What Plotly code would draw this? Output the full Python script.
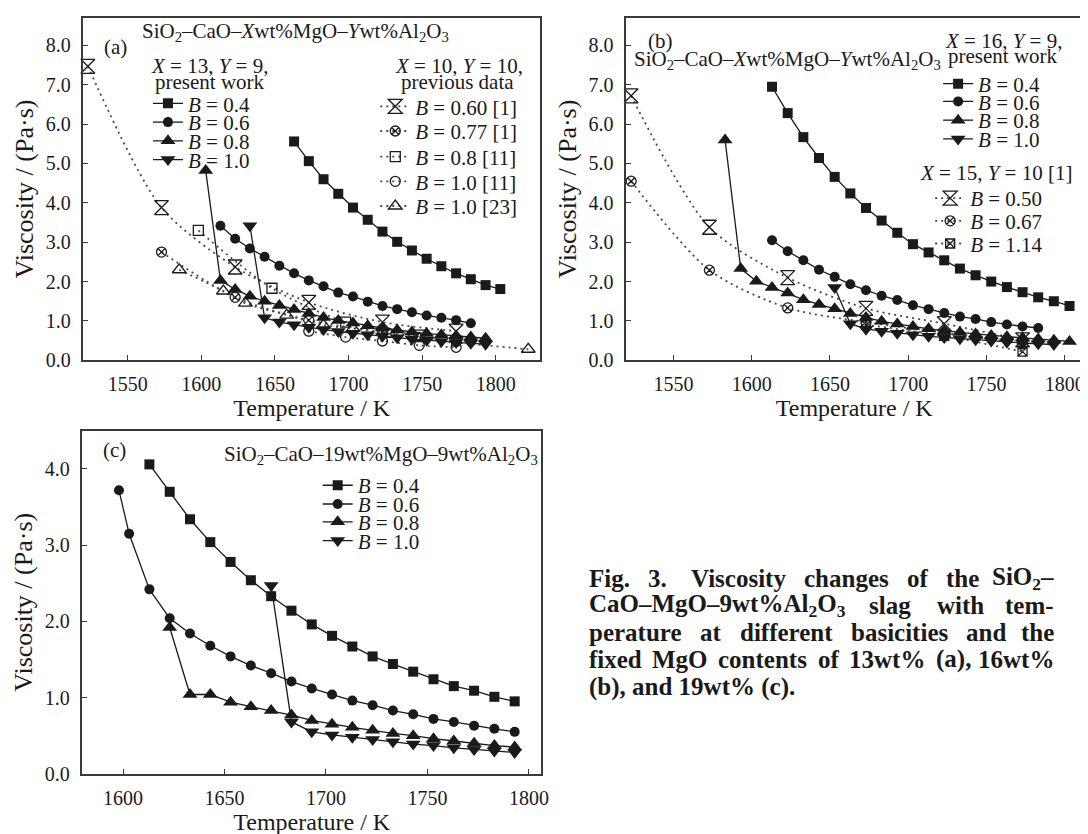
import plotly.graph_objects as go

W, H = 1088, 834
FONT = "Liberation Serif"
INK = "#1a1a1a"

# ---------------- panel (a): X = 13, Y = 9, present work ----------------
a_b04_T = [1663, 1673, 1683, 1693, 1703, 1713, 1723, 1733, 1743, 1753, 1763, 1773, 1783, 1793, 1803]
a_b04_V = [5.56, 5.06, 4.60, 4.23, 3.88, 3.57, 3.27, 3.01, 2.79, 2.58, 2.39, 2.21, 2.06, 1.91, 1.81]
a_b06_T = [1613, 1623, 1633, 1643, 1653, 1663, 1673, 1683, 1693, 1703, 1713, 1723, 1733, 1743, 1753, 1763, 1773, 1783]
a_b06_V = [3.42, 3.09, 2.84, 2.63, 2.40, 2.21, 2.03, 1.88, 1.72, 1.62, 1.49, 1.38, 1.30, 1.22, 1.14, 1.08, 1.02, 0.94]
a_b08_T = [1603, 1613, 1623, 1633, 1643, 1653, 1663, 1673, 1683, 1693, 1703, 1713, 1723, 1733, 1743, 1753, 1763, 1773, 1783, 1793]
a_b08_V = [4.82, 2.03, 1.80, 1.63, 1.50, 1.39, 1.29, 1.19, 1.09, 1.01, 0.95, 0.88, 0.82, 0.77, 0.72, 0.68, 0.65, 0.62, 0.59, 0.56]
a_b10_T = [1633, 1643, 1653, 1663, 1673, 1683, 1693, 1703, 1713, 1723, 1733, 1743, 1753, 1763, 1773, 1783, 1793]
a_b10_V = [3.42, 1.08, 0.97, 0.90, 0.84, 0.78, 0.73, 0.69, 0.65, 0.61, 0.57, 0.54, 0.51, 0.48, 0.45, 0.43, 0.41]
# panel (a): X = 10, Y = 10, previous data
a_p060_T = [1523, 1573, 1623, 1673, 1723, 1773]
a_p060_V = [7.47, 3.88, 2.37, 1.47, 0.97, 0.74]
a_p077_T = [1573, 1623, 1673, 1723, 1773]
a_p077_V = [2.75, 1.60, 1.02, 0.72, 0.48]
a_p08_T = [1598, 1648, 1698, 1748]
a_p08_V = [3.30, 1.83, 0.97, 0.64]
a_p10_T = [1673, 1698, 1723, 1748, 1773]
a_p10_V = [0.74, 0.59, 0.49, 0.38, 0.33]
a_p10b_T = [1585, 1615, 1630, 1658, 1683, 1703, 1728, 1748, 1822]
a_p10b_V = [2.30, 1.76, 1.45, 1.15, 0.89, 0.81, 0.66, 0.55, 0.28]

# ---------------- panel (b): X = 16, Y = 9, present work ----------------
b_b04_T = [1613, 1623, 1633, 1643, 1653, 1663, 1673, 1683, 1693, 1703, 1713, 1723, 1733, 1743, 1753, 1763, 1773, 1783, 1793, 1803]
b_b04_V = [6.95, 6.28, 5.67, 5.14, 4.66, 4.24, 3.87, 3.55, 3.24, 2.95, 2.74, 2.54, 2.33, 2.16, 2.00, 1.86, 1.73, 1.60, 1.50, 1.38]
b_b06_T = [1613, 1623, 1633, 1643, 1653, 1663, 1673, 1683, 1693, 1703, 1713, 1723, 1733, 1743, 1753, 1763, 1773, 1783]
b_b06_V = [3.05, 2.77, 2.54, 2.30, 2.12, 1.93, 1.78, 1.64, 1.53, 1.40, 1.30, 1.20, 1.11, 1.05, 0.97, 0.91, 0.86, 0.82]
b_b08_T = [1583, 1593, 1603, 1613, 1623, 1633, 1643, 1653, 1663, 1673, 1683, 1693, 1703, 1713, 1723, 1733, 1743, 1753, 1763, 1773, 1783, 1793, 1803]
b_b08_V = [5.60, 2.33, 2.01, 1.85, 1.71, 1.54, 1.42, 1.31, 1.19, 1.09, 0.99, 0.92, 0.86, 0.80, 0.75, 0.71, 0.67, 0.63, 0.60, 0.57, 0.54, 0.51, 0.48]
b_b10_T = [1653, 1663, 1673, 1683, 1693, 1703, 1713, 1723, 1733, 1743, 1753, 1763, 1773, 1783, 1793]
b_b10_V = [1.85, 0.93, 0.79, 0.74, 0.69, 0.65, 0.61, 0.58, 0.55, 0.52, 0.49, 0.46, 0.44, 0.42, 0.40]
# panel (b): X = 15, Y = 10 [1]
b_p050_T = [1523, 1573, 1623, 1673, 1723, 1773]
b_p050_V = [6.72, 3.38, 2.10, 1.32, 0.93, 0.52]
b_p067_T = [1523, 1573, 1623, 1673, 1723, 1773]
b_p067_V = [4.55, 2.29, 1.33, 0.97, 0.70, 0.42]
b_p114_T = [1673, 1723, 1773]
b_p114_V = [0.90, 0.62, 0.22]

# ---------------- panel (c): 19wt% MgO, 9wt% Al2O3 ----------------
c_b04_T = [1613, 1623, 1633, 1643, 1653, 1663, 1673, 1683, 1693, 1703, 1713, 1723, 1733, 1743, 1753, 1763, 1773, 1783, 1793]
c_b04_V = [4.06, 3.70, 3.34, 3.04, 2.78, 2.54, 2.33, 2.14, 1.96, 1.81, 1.67, 1.54, 1.44, 1.34, 1.24, 1.15, 1.09, 1.01, 0.95]
c_b06_T = [1598, 1603, 1613, 1623, 1633, 1643, 1653, 1663, 1673, 1683, 1693, 1703, 1713, 1723, 1733, 1743, 1753, 1763, 1773, 1783, 1793]
c_b06_V = [3.72, 3.15, 2.42, 2.04, 1.84, 1.68, 1.54, 1.42, 1.32, 1.21, 1.12, 1.04, 0.96, 0.90, 0.83, 0.78, 0.72, 0.68, 0.63, 0.59, 0.55]
c_b08_T = [1623, 1633, 1643, 1653, 1663, 1673, 1683, 1693, 1703, 1713, 1723, 1733, 1743, 1753, 1763, 1773, 1783, 1793]
c_b08_V = [1.92, 1.04, 1.04, 0.94, 0.88, 0.83, 0.77, 0.70, 0.65, 0.61, 0.57, 0.53, 0.50, 0.46, 0.43, 0.40, 0.37, 0.35]
c_b10_T = [1673, 1683, 1693, 1703, 1713, 1723, 1733, 1743, 1753, 1763, 1773, 1783, 1793]
c_b10_V = [2.47, 0.68, 0.55, 0.51, 0.48, 0.45, 0.42, 0.39, 0.37, 0.34, 0.32, 0.30, 0.28]

# tick values
x_ticks_ab = [1550, 1600, 1650, 1700, 1750, 1800]
x_ticks_c = [1600, 1650, 1700, 1750, 1800]
y_ticks_ab = [0, 1, 2, 3, 4, 5, 6, 7, 8]
y_ticks_c = [0, 1, 2, 3, 4]

fig = go.Figure()
legend_layouts = {}
leg_counter = [0]


def px(x):
    return x / W


def py(y):
    return 1 - y / H


def new_legend(text_x, cy):
    leg_counter[0] += 1
    k = leg_counter[0]
    name = "legend" if k == 1 else f"legend{k}"
    legend_layouts[name] = dict(
        x=px(text_x - 41), y=py(cy), xanchor="left", yanchor="middle",
        bgcolor="rgba(0,0,0,0)", borderwidth=0, itemwidth=30, tracegroupgap=0,
        font=dict(family=FONT, size=21, color=INK),
    )
    return name


def present(x, y, sym, size, label, xa, ya, tx, cy):
    fig.add_trace(go.Scatter(
        x=x, y=y, mode="lines+markers", name=label, xaxis=xa, yaxis=ya,
        legend=new_legend(tx, cy), cliponaxis=False,
        line=dict(color=INK, width=1.3),
        marker=dict(symbol=sym, size=size, color=INK, line=dict(width=0)),
    ))


def previous(x, y, sym, size, label, xa, ya, tx, cy):
    fig.add_trace(go.Scatter(
        x=x, y=y, mode="lines+markers", name=label, xaxis=xa, yaxis=ya,
        legend=new_legend(tx, cy), cliponaxis=False,
        line=dict(color="#4a4a4a", width=1.8, dash="2px,4px", shape="spline", smoothing=0.8),
        marker=dict(symbol=sym, size=size, color=INK, line=dict(width=1.3, color=INK)),
    ))


B = "<i>B</i>"
# panel (a) previous data (drawn beneath)
rows_a2 = [100, 125, 151, 176, 201]
previous(a_p060_T, a_p060_V, "hourglass-open", 14, f"{B} = 0.60 [1]", "x", "y", 411, rows_a2[0])
previous(a_p077_T, a_p077_V, "circle-x-open", 10, f"{B} = 0.77 [1]", "x", "y", 411, rows_a2[1])
previous(a_p08_T, a_p08_V, "square-open", 10, f"{B} = 0.8 [11]", "x", "y", 411, rows_a2[2])
previous(a_p10_T, a_p10_V, "circle-open", 10, f"{B} = 1.0 [11]", "x", "y", 411, rows_a2[3])
previous(a_p10b_T, a_p10b_V, "triangle-up-open", 12, f"{B} = 1.0 [23]", "x", "y", 411, rows_a2[4])
# panel (a) present work
rows_a1 = [97, 116, 135, 154]
present(a_b04_T, a_b04_V, "square", 10, f"{B} = 0.4", "x", "y", 182, rows_a1[0])
present(a_b06_T, a_b06_V, "circle", 10, f"{B} = 0.6", "x", "y", 182, rows_a1[1])
present(a_b08_T, a_b08_V, "triangle-up", 13, f"{B} = 0.8", "x", "y", 182, rows_a1[2])
present(a_b10_T, a_b10_V, "triangle-down", 13, f"{B} = 1.0", "x", "y", 182, rows_a1[3])

# panel (b)
rows_b2 = [193, 216, 239]
previous(b_p050_T, b_p050_V, "hourglass-open", 14, f"{B} = 0.50", "x2", "y2", 970, rows_b2[0])
previous(b_p067_T, b_p067_V, "circle-x-open", 10, f"{B} = 0.67", "x2", "y2", 970, rows_b2[1])
previous(b_p114_T, b_p114_V, "square-x-open", 9, f"{B} = 1.14", "x2", "y2", 970, rows_b2[2])
rows_b1 = [77, 95, 114, 133]
present(b_b04_T, b_b04_V, "square", 10, f"{B} = 0.4", "x2", "y2", 978, rows_b1[0])
present(b_b06_T, b_b06_V, "circle", 10, f"{B} = 0.6", "x2", "y2", 978, rows_b1[1])
present(b_b08_T, b_b08_V, "triangle-up", 13, f"{B} = 0.8", "x2", "y2", 978, rows_b1[2])
present(b_b10_T, b_b10_V, "triangle-down", 13, f"{B} = 1.0", "x2", "y2", 978, rows_b1[3])

# panel (c)
rows_c = [484, 503, 521, 540]
present(c_b04_T, c_b04_V, "square", 10, f"{B} = 0.4", "x3", "y3", 353, rows_c[0])
present(c_b06_T, c_b06_V, "circle", 10, f"{B} = 0.6", "x3", "y3", 353, rows_c[1])
present(c_b08_T, c_b08_V, "triangle-up", 13, f"{B} = 0.8", "x3", "y3", 353, rows_c[2])
present(c_b10_T, c_b10_V, "triangle-down", 13, f"{B} = 1.0", "x3", "y3", 353, rows_c[3])


def axis(**kw):
    d = dict(
        showline=True, linecolor="#3a3a3a", linewidth=1.6, mirror=True,
        ticks="inside", ticklen=5, tickwidth=1.4, tickcolor="#3a3a3a",
        showgrid=False, zeroline=False, fixedrange=True,
        tickfont=dict(family=FONT, size=20, color=INK),
    )
    d.update(kw)
    return d


def xtitle(t):
    return dict(text=t, font=dict(family=FONT, size=24, color=INK), standoff=4)


def ytitle(t):
    return dict(text=t, font=dict(family=FONT, size=26, color=INK), standoff=5)


YT = "Viscosity / (Pa·s)"
XT = "Temperature / K"
top_ab, bot_ab = 10, 357
layout_axes = dict(
    xaxis=axis(domain=[px(76), px(536)], range=[1520, 1830], tickvals=x_ticks_ab,
               anchor="y", title=xtitle(XT), ticklabelstandoff=5),
    yaxis=axis(domain=[py(bot_ab), py(top_ab)], range=[0, 8.7], tickvals=y_ticks_ab,
               tickformat=".1f", anchor="x", title=ytitle(YT), ticklabelstandoff=7),
    xaxis2=axis(domain=[px(623), px(1082)], range=[1520, 1811], tickvals=x_ticks_ab,
                anchor="y2", title=xtitle(XT), ticklabelstandoff=5),
    yaxis2=axis(domain=[py(bot_ab), py(top_ab)], range=[0, 8.7], tickvals=y_ticks_ab,
                tickformat=".1f", anchor="x2", title=ytitle(YT), ticklabelstandoff=7),
    xaxis3=axis(domain=[px(75), px(537)], range=[1580, 1806], tickvals=x_ticks_c,
                anchor="y3", title=xtitle(XT), ticklabelstandoff=5),
    yaxis3=axis(domain=[py(776), py(428.5)], range=[0, 4.5], tickvals=y_ticks_c,
                tickformat=".1f", anchor="x3", title=ytitle(YT), ticklabelstandoff=7),
)

annots = []


def text(t, x, y, size=20, anchor="center", bold=False):
    annots.append(dict(
        text=(f"<b>{t}</b>" if bold else t), x=px(x), y=py(y), xref="paper", yref="paper",
        xanchor=anchor, yanchor="middle", showarrow=False,
        font=dict(family=FONT, size=size, color=INK),
    ))


SYS = "SiO<sub>2</sub>–CaO–<i>X</i>wt%MgO–<i>Y</i>wt%Al<sub>2</sub>O<sub>3</sub>"
# panel (a)
text("(a)", 108, 40, 21)
text(SYS, 290, 24, 21)
text("<i>X</i> = 13, <i>Y</i> = 9,", 203, 59, 21)
text("present work", 203, 75, 21)
text("<i>X</i> = 10, <i>Y</i> = 10,", 454, 59, 21)
text("previous data", 453, 75, 21)
# panel (b)
text("(b)", 657, 33, 21)
text(SYS, 785, 53, 21)
text("<i>X</i> = 16, <i>Y</i> = 9,", 1003, 33, 21)
text("present work", 1002, 49, 21)
text("<i>X</i> = 15, <i>Y</i> = 10 [1]", 995, 167, 21)
# panel (c)
text("(c)", 107, 448, 21)
text("SiO<sub>2</sub>–CaO–19wt%MgO–9wt%Al<sub>2</sub>O<sub>3</sub>", 376, 453, 21)

# caption (justified word by word, Times-bold widths)
BW = {' ': 250, '.': 250, ',': 250, '(': 333, ')': 333, '%': 1000, '–': 500, '-': 333,
      'F': 611, 'i': 278, 'g': 500, 'V': 722, 's': 389, 'c': 444, 'o': 500, 't': 333,
      'y': 500, 'h': 556, 'a': 500, 'n': 556, 'e': 444, 'f': 333, 'S': 556, 'O': 778,
      'C': 722, 'M': 944, 'l': 278, 'w': 722, 'A': 722, 'm': 833, 'p': 556, 'r': 444,
      'u': 556, 'd': 556, 'b': 556, 'x': 500, 'k': 556}


def tw(word, size):
    total, scale, i = 0.0, 1.0, 0
    while i < len(word):
        if word.startswith("<sub>", i):
            scale, i = 0.7, i + 5
            continue
        if word.startswith("</sub>", i):
            scale, i = 1.0, i + 6
            continue
        total += BW.get(word[i], 500) * scale
        i += 1
    return total / 1000 * size


CAP_SIZE = 25
CAP_L, CAP_R = 583, 1056
cap_lines = [
    ["Fig.", "3.", " Viscosity", "changes", "of", "the", "SiO<sub>2</sub>–"],
    ["CaO–MgO–9wt%Al<sub>2</sub>O<sub>3</sub>", "slag", "with", "tem-"],
    ["perature", "at", "different", "basicities", "and", "the"],
    ["fixed", "MgO", "contents", "of", "13wt%", "(a),", "16wt%"],
]
cap_y = [578, 605, 633, 660, 688]
for words, yy in zip(cap_lines, cap_y):
    widths = [tw(w, CAP_SIZE) for w in words]
    gap = (CAP_R - CAP_L - sum(widths)) / (len(words) - 1)
    xx = CAP_L
    for j, (w, wd) in enumerate(zip(words, widths)):
        if j == len(words) - 1:
            text(w.strip(), CAP_R, yy, CAP_SIZE, "right", True)
        else:
            lead = tw(" ", CAP_SIZE) if w.startswith(" ") else 0
            text(w.strip(), xx + lead, yy, CAP_SIZE, "left", True)
        xx += wd + gap
text("(b), and 19wt% (c).", CAP_L, cap_y[4], CAP_SIZE, "left", True)

fig.update_layout(
    width=W, height=H, margin=dict(l=0, r=0, t=0, b=0),
    paper_bgcolor="white", plot_bgcolor="white",
    showlegend=True, annotations=annots,
    **layout_axes, **legend_layouts,
)

fig.write_html("out.html")
